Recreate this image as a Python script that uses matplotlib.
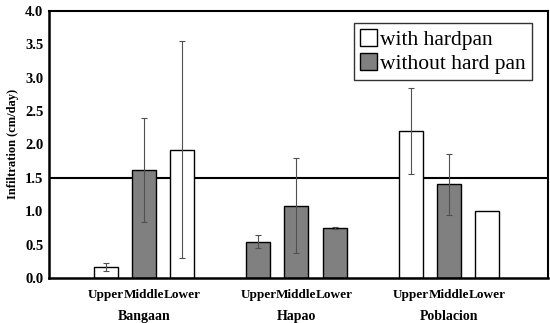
import numpy as np
import matplotlib.pyplot as plt
from matplotlib.patches import Patch
from matplotlib.transforms import blended_transform_factory

plt.rcParams['font.family'] = ['Liberation Serif', 'DejaVu Serif']

# data
sites = ['Bangaan', 'Hapao', 'Poblacion']
positions = ['Upper', 'Middle', 'Lower']
values = [0.17, 1.62, 1.92, 0.545, 1.08, 0.75, 2.20, 1.40, 1.00]
errors = [0.06, 0.78, 1.62, 0.10, 0.71, 0.01, 0.64, 0.46, 0.0]
hardpan = [True, False, True, False, False, False, True, False, True]
threshold = 1.5

x = np.array([0, 1, 2, 4, 5, 6, 8, 9, 10])
colors = ['white' if h else '#808080' for h in hardpan]

fig = plt.figure(figsize=(5.5, 3.23), dpi=100)
ax = fig.add_axes([0.089, 0.139, 0.907, 0.828])

ax.bar(x, values, width=0.63, color=colors, edgecolor='black', linewidth=1.0, zorder=2)
for xi, v, e in zip(x, values, errors):
    if e > 0:
        ax.errorbar(xi, v, yerr=e, fmt='none', ecolor='#505050', elinewidth=0.8,
                    capsize=2.5, capthick=0.8, zorder=3)

ax.axhline(threshold, color='black', linewidth=1.5, zorder=1)

ax.set_xlim(-1.5, 11.6)
ax.set_ylim(0, 4.0)
ax.set_yticks(np.arange(0, 4.01, 0.5))
ax.set_yticklabels([f'{t:.1f}' for t in np.arange(0, 4.01, 0.5)], fontweight='bold', fontsize=10.5)
ax.tick_params(axis='y', length=0, pad=4)
ax.set_xticks(x)
ax.set_xticklabels(positions * 3, fontweight='bold', fontsize=9.5)
ax.tick_params(axis='x', length=0, pad=8)
ax.set_ylabel('Infiltration (cm/day)', fontweight='bold', fontsize=9)

trans = blended_transform_factory(ax.transData, ax.transAxes)
for i, s in enumerate(sites):
    ax.text(x[i * 3 + 1], -0.142, s, transform=trans, ha='center', va='center',
            fontweight='bold', fontsize=10)

for side in ['left', 'bottom']:
    ax.spines[side].set_linewidth(1.8)
for side in ['top', 'right']:
    ax.spines[side].set_linewidth(1.5)

handles = [Patch(facecolor='white', edgecolor='black', label='with hardpan'),
           Patch(facecolor='#808080', edgecolor='black', label='without hard pan')]
leg = ax.legend(handles=handles, loc='upper right', bbox_to_anchor=(0.968, 0.955),
                borderaxespad=0, fontsize=15.5, frameon=True, fancybox=False,
                handlelength=0.75, handleheight=0.85, handletextpad=0.15,
                borderpad=0.3, labelspacing=0.12)
leg.get_frame().set_edgecolor('black')
leg.get_frame().set_linewidth(1.0)

fig.savefig('out.png', dpi=100)
